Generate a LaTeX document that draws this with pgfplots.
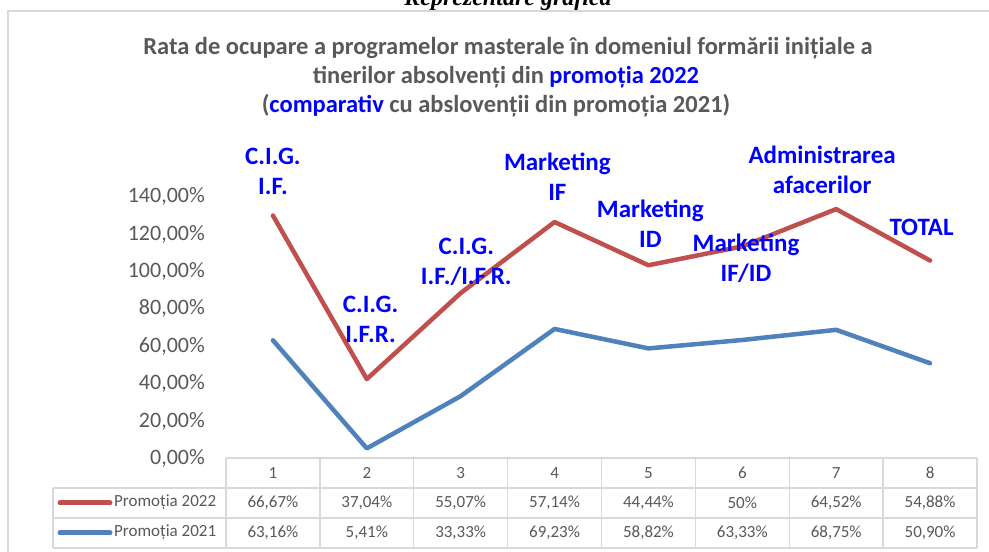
\documentclass[border=0pt]{standalone}
\usepackage{pgfplots}
\pgfplotsset{compat=1.18}
\usepackage{fontspec}
\setmainfont{Carlito}
\newfontfamily\seriff{Liberation Serif}
\definecolor{txtgray}{HTML}{595959}
\definecolor{redline}{HTML}{C0504D}
\definecolor{blueline}{HTML}{4F81BD}
\definecolor{lblue}{HTML}{0000FF}
\definecolor{gridgray}{HTML}{D9D9D9}
\begin{document}
\begin{tikzpicture}[x=1pt,y=1pt,
  lbl/.style={font=\bfseries\fontsize{25}{30}\selectfont, text=lblue, align=center, inner sep=0pt}]
\useasboundingbox (0,0) rectangle (989,552);
\fill[white] (0,0) rectangle (989,552);
\begin{scope}
\clip (0,0) rectangle (989,552);
\node[font=\seriff\bfseries\itshape\fontsize{24}{28}\selectfont, anchor=base, inner sep=0pt] at (508,546) {Reprezentare grafică};
\end{scope}
\draw[gridgray, line width=2pt] (8,0) -- (8,541) -- (989,541);
% title
\node[font=\bfseries\fontsize{24.5}{28}\selectfont, text=txtgray, anchor=base, inner sep=0pt] at (508,497) {Rata de ocupare a programelor masterale în domeniul formării inițiale a};
\node[font=\bfseries\fontsize{24.5}{28}\selectfont, text=txtgray, anchor=base, inner sep=0pt] at (506,468) {tinerilor absolvenți din \textcolor{lblue}{promoția 2022}};
\node[font=\bfseries\fontsize{24.5}{28}\selectfont, text=txtgray, anchor=base, inner sep=0pt] at (496,439) {(\textcolor{lblue}{comparativ} cu abslovenții din promoția 2021)};
\begin{axis}[
  at={(226pt,93.5pt)}, anchor=south west,
  scale only axis, width=751pt, height=262pt,
  xmin=0.5, xmax=8.5, ymin=0, ymax=140,
  axis line style={draw=none},
  xtick=\empty,
  ytick={0,20,40,60,80,100,120,140},
  major tick length=0pt,
  /pgf/number format/assume math mode=true,
  yticklabel={\pgfmathprintnumber[fixed,fixed zerofill,precision=2,use comma]{\tick}\%},
  yticklabel style={font=\fontsize{22}{24}\selectfont, text=txtgray, anchor=east, inner sep=0pt, xshift=-21pt},
  clip=false,
]
\addplot[blueline, line width=4.5pt, line cap=round, line join=round, mark=none] coordinates {(1,63.16) (2,5.41) (3,33.33) (4,69.23) (5,58.82) (6,63.33) (7,68.75) (8,50.90)};
\addplot[redline, line width=4.5pt, line cap=round, line join=round, mark=none] coordinates {(1,129.83) (2,42.45) (3,88.40) (4,126.37) (5,103.26) (6,113.33) (7,133.27) (8,105.78)};
\node[lbl] at (axis cs:1.00,153.4) {C.I.G.\\I.F.};
\node[lbl] at (axis cs:2.04,74.3) {C.I.G.\\I.F.R.};
\node[lbl] at (axis cs:3.06,105.3) {C.I.G.\\I.F./I.F.R.};
\node[lbl] at (axis cs:4.03,150.4) {Marketing\\IF};
\node[lbl] at (axis cs:5.02,125.3) {Marketing\\ID};
\node[lbl] at (axis cs:6.04,107.1) {Marketing\\IF/ID};
\node[lbl] at (axis cs:6.85,154.4) {Administrarea\\afacerilor};
\node[lbl] at (axis cs:7.91,123.4) {TOTAL};
\end{axis}
% data table
\begin{scope}[gridgray, line width=1.3pt]
\draw (226,94) -- (977,94);
\draw (53,64) -- (977,64);
\draw (53,34) -- (977,34);
\draw (53,4) -- (977,4);
\draw (53,64) -- (53,4);
\foreach \k in {0,...,8} { \draw ({226+\k*93.875},94) -- ({226+\k*93.875},4); }
\end{scope}
\draw[redline, line width=5pt, line cap=round] (60,49) -- (110,49);
\draw[blueline, line width=5pt, line cap=round] (60,19) -- (110,19);
\begin{scope}[every node/.style={font=\fontsize{17}{20}\selectfont, text=txtgray, inner sep=0pt}]
\node[anchor=west] at (114,50) {Promoția 2022};
\node[anchor=west] at (114,20) {Promoția 2021};
\foreach \k/\a/\b in {1/{66,67\%}/{63,16\%}, 2/{37,04\%}/{5,41\%}, 3/{55,07\%}/{33,33\%}, 4/{57,14\%}/{69,23\%}, 5/{44,44\%}/{58,82\%}, 6/{50\%}/{63,33\%}, 7/{64,52\%}/{68,75\%}, 8/{54,88\%}/{50,90\%}} {
  \node at ({226+(\k-0.5)*93.875},79) {\k};
  \node at ({226+(\k-0.5)*93.875},49) {\a};
  \node at ({226+(\k-0.5)*93.875},19) {\b};
}
\end{scope}
\end{tikzpicture}
\end{document}
